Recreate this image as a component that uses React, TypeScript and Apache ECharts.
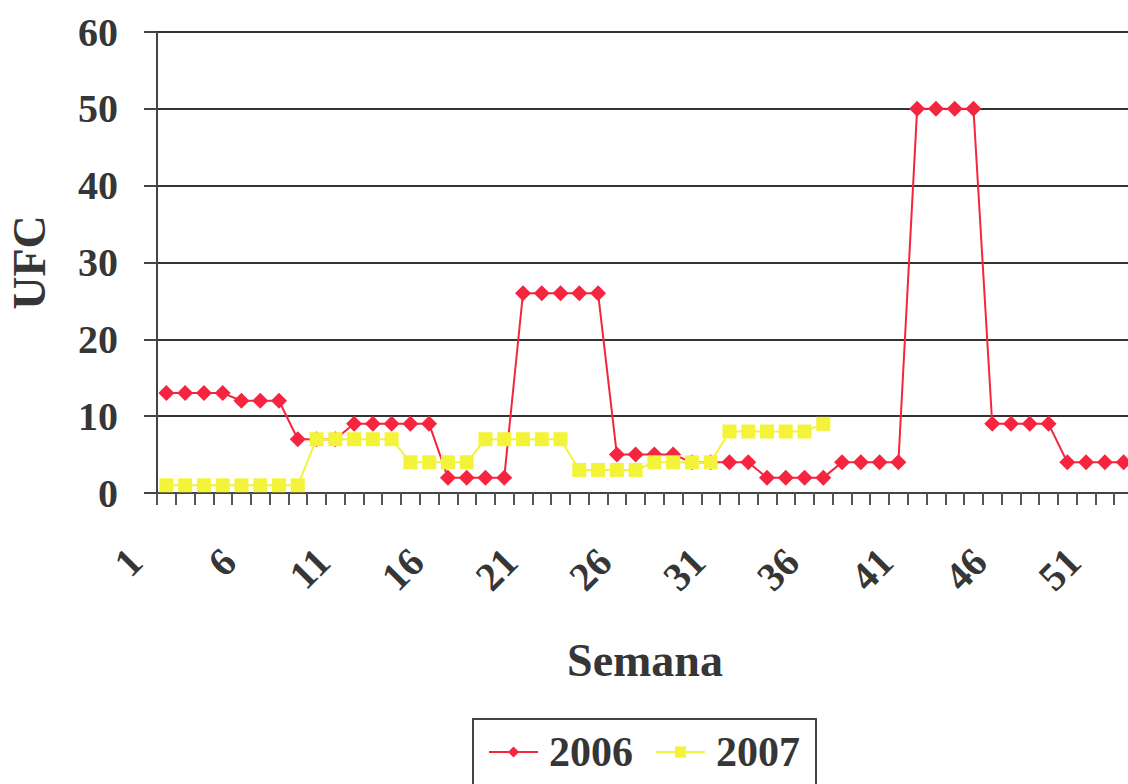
import React, { useEffect, useRef } from "react";
import * as echarts from "echarts";

const weeks: string[] = Array.from({ length: 52 }, (_, i) => String(i + 1));

const ufc2006: number[] = [
  13, 13, 13, 13, 12, 12, 12, 7, 7, 7,
  9, 9, 9, 9, 9, 2, 2, 2, 2, 26,
  26, 26, 26, 26, 5, 5, 5, 5, 4, 4,
  4, 4, 2, 2, 2, 2, 4, 4, 4, 4,
  50, 50, 50, 50, 9, 9, 9, 9, 4, 4,
  4, 4,
];

const ufc2007: (number | null)[] = [
  1, 1, 1, 1, 1, 1, 1, 1, 7, 7,
  7, 7, 7, 4, 4, 4, 4, 7, 7, 7,
  7, 7, 3, 3, 3, 3, 4, 4, 4, 4,
  8, 8, 8, 8, 8, 9,
];

const yTicks = { min: 0, max: 60, interval: 10 };

const FONT = "'Liberation Serif', 'Times New Roman', serif";
const INK = "#363636";
const RED = "#f5253f";
const YELLOW = "#f3f33a";

export default function App() {
  const ref = useRef<HTMLDivElement>(null);

  useEffect(() => {
    document.body.style.margin = "0";
    const chart = echarts.init(ref.current!, undefined, { renderer: "svg" });
    chart.setOption({
      animation: false,
      backgroundColor: "#ffffff",
      grid: {
        left: 157,
        right: -5,
        top: 32,
        bottom: 291,
        containLabel: false,
        outerBoundsMode: "none",
      },
      legend: {
        left: 473,
        top: 719,
        orient: "horizontal",
        borderColor: "#444",
        borderWidth: 2,
        padding: [12, 16, 14, 15],
        itemWidth: 49,
        itemHeight: 14,
        itemGap: 22,
        textStyle: {
          fontFamily: FONT,
          fontWeight: "bold",
          fontSize: 42,
          color: INK,
          padding: [0, 0, 0, 6],
        },
        data: ["2006", "2007"],
      },
      xAxis: {
        type: "category",
        data: weeks,
        boundaryGap: true,
        name: "Semana",
        nameLocation: "middle",
        nameGap: 144,
        nameTextStyle: { fontFamily: FONT, fontWeight: "bold", fontSize: 46, color: INK },
        axisLine: { show: true, lineStyle: { color: "#444", width: 2 } },
        axisTick: { show: true, interval: 0, length: 12, lineStyle: { color: "#555", width: 2 } },
        axisLabel: {
          interval: 4,
          rotate: 45,
          margin: 31,
          padding: [0, 44, 0, 0],
          fontFamily: FONT,
          fontWeight: "bold",
          fontSize: 40,
          color: INK,
        },
        splitLine: { show: false },
      },
      yAxis: {
        type: "value",
        min: yTicks.min,
        max: yTicks.max,
        interval: yTicks.interval,
        name: "UFC",
        nameLocation: "middle",
        nameGap: 105,
        nameRotate: 90,
        nameTextStyle: { fontFamily: FONT, fontWeight: "bold", fontSize: 46, color: INK },
        axisLine: { show: true, lineStyle: { color: "#444", width: 2 } },
        axisTick: { show: true, length: 13, lineStyle: { color: "#444", width: 2 } },
        axisLabel: {
          margin: 39,
          fontFamily: FONT,
          fontWeight: "bold",
          fontSize: 40,
          color: INK,
        },
        splitLine: { show: true, lineStyle: { color: "#333", width: 2 } },
      },
      series: [
        {
          name: "2006",
          type: "line",
          data: ufc2006,
          symbol: "diamond",
          symbolSize: 16,
          showSymbol: true,
          showAllSymbol: true,
          lineStyle: { color: RED, width: 2 },
          itemStyle: { color: RED },
          z: 2,
        },
        {
          name: "2007",
          type: "line",
          data: ufc2007,
          symbol: "rect",
          symbolSize: 14,
          showSymbol: true,
          showAllSymbol: true,
          lineStyle: { color: YELLOW, width: 2 },
          itemStyle: { color: YELLOW },
          z: 3,
        },
      ],
    });
    return () => chart.dispose();
  }, []);

  return <div ref={ref} style={{ width: 1128, height: 784 }} />;
}
